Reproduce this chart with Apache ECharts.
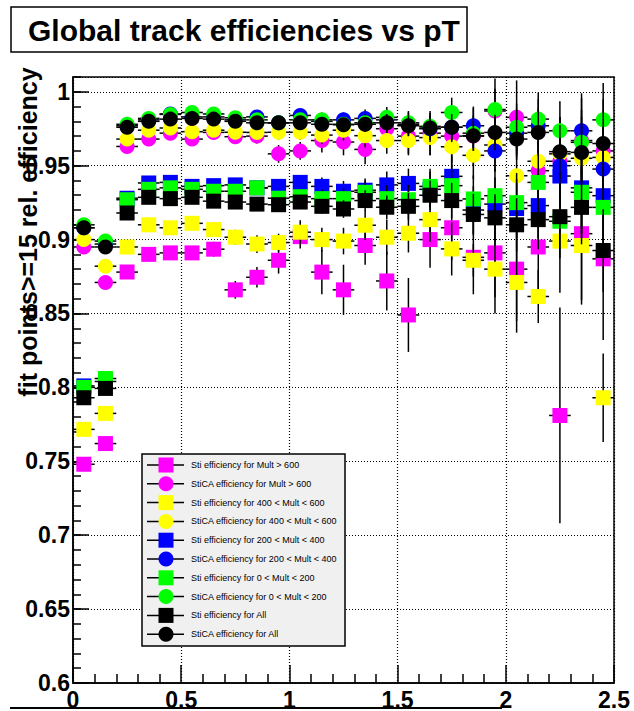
<!DOCTYPE html>
<html><head><meta charset="utf-8">
<script src="https://cdn.jsdelivr.net/npm/echarts@6.0.0/dist/echarts.min.js"></script>
<style>html,body{margin:0;padding:0;background:#fff}#c{width:634px;height:711px}</style>
</head><body><div id="c"></div>
<script>
// ---- data ----
const titleText = 'Global track efficiencies vs pT';
const yTitle = 'fit points>=15 rel. efficiency';
const xTicks = [0, 0.5, 1, 1.5, 2, 2.5];
const yTicks = [0.6, 0.65, 0.7, 0.75, 0.8, 0.85, 0.9, 0.95, 1];
const pt = [0.05,0.15,0.25,0.35,0.45,0.55,0.65,0.75,0.85,0.95,1.05,1.15,1.25,1.35,1.45,1.55,1.65,1.75,1.85,1.95,2.05,2.15,2.25,2.35,2.45];
const ptErr = [0.05,0.05,0.05,0.05,0.05,0.05,0.05,0.05,0.05,0.05,0.05,0.05,0.05,0.05,0.05,0.05,0.05,0.05,0.05,0.05,0.05,0.05,0.05,0.05,0.05];

const legendLabels = [
  'Sti efficiency for Mult > 600',
  'StiCA efficiency for Mult > 600',
  'Sti efficiency for 400 < Mult < 600',
  'StiCA efficiency for 400 < Mult < 600',
  'Sti efficiency for 200 < Mult < 400',
  'StiCA efficiency for 200 < Mult < 400',
  'Sti efficiency for 0 < Mult < 200',
  'StiCA efficiency for 0 < Mult < 200',
  'Sti efficiency for All',
  'StiCA efficiency for All'
];

const stiMultGt600 = [0.748,0.762,0.878,0.890,0.891,0.891,0.8935,0.866,0.8745,0.886,0.902,0.878,0.866,0.896,0.872,0.849,0.900,0.908,0.888,0.891,0.880,0.895,0.781,0.904,0.887];
const stiMultGt600Err = [0.003,0.003,0.004,0.004,0.004,0.004,0.005,0.006,0.007,0.009,0.008,0.015,0.017,0.013,0.020,0.025,0.019,0.022,0.025,0.030,0.035,0.035,0.073,0.045,0.055];
const caMultGt600 = [0.895,0.871,0.963,0.968,0.972,0.968,0.9725,0.9696,0.970,0.958,0.960,0.967,0.966,0.961,0.975,0.970,0.972,0.970,0.970,0.987,0.9827,0.9466,0.953,0.967,0.960];
const caMultGt600Err = [0.002,0.002,0.003,0.003,0.003,0.003,0.004,0.004,0.005,0.006,0.006,0.008,0.009,0.010,0.011,0.012,0.015,0.018,0.020,0.022,0.025,0.028,0.030,0.032,0.035];
const sti400to600 = [0.7716,0.7824,0.895,0.910,0.908,0.911,0.9068,0.9016,0.897,0.898,0.905,0.900,0.899,0.9097,0.9016,0.9043,0.9135,0.8937,0.886,0.880,0.871,0.8615,0.899,0.896,0.793];
const sti400to600Err = [0.003,0.003,0.003,0.004,0.004,0.004,0.004,0.005,0.006,0.006,0.008,0.008,0.009,0.010,0.012,0.013,0.015,0.018,0.011,0.030,0.034,0.018,0.035,0.040,0.030];
const ca400to600 = [0.900,0.882,0.968,0.974,0.9755,0.973,0.974,0.9726,0.9725,0.9726,0.9726,0.9707,0.974,0.9703,0.967,0.967,0.969,0.9628,0.957,0.964,0.9432,0.953,0.958,0.955,0.9556];
const ca400to600Err = [0.002,0.002,0.002,0.003,0.003,0.003,0.003,0.004,0.004,0.005,0.005,0.006,0.007,0.008,0.009,0.010,0.012,0.014,0.016,0.018,0.020,0.022,0.025,0.028,0.030];
const sti200to400 = [0.801,0.804,0.928,0.9383,0.9387,0.936,0.9365,0.937,0.935,0.936,0.9387,0.936,0.9327,0.9334,0.937,0.938,0.934,0.9428,0.920,0.924,0.921,0.923,0.943,0.935,0.9297];
const sti200to400Err = [0.002,0.002,0.002,0.003,0.003,0.003,0.003,0.004,0.004,0.004,0.005,0.006,0.007,0.008,0.009,0.010,0.012,0.014,0.016,0.018,0.020,0.022,0.025,0.028,0.030];
const ca200to400 = [0.908,0.897,0.977,0.981,0.985,0.983,0.983,0.981,0.983,0.979,0.984,0.980,0.981,0.982,0.981,0.978,0.975,0.976,0.977,0.960,0.972,0.977,0.950,0.9736,0.9477];
const ca200to400Err = [0.002,0.002,0.002,0.002,0.002,0.003,0.003,0.003,0.003,0.004,0.004,0.005,0.005,0.006,0.007,0.008,0.009,0.010,0.012,0.014,0.016,0.018,0.020,0.022,0.025];
const sti0to200 = [0.800,0.806,0.927,0.934,0.935,0.934,0.9327,0.9327,0.935,0.928,0.929,0.9277,0.9277,0.932,0.9277,0.927,0.936,0.9365,0.9275,0.9297,0.925,0.9387,0.9124,0.932,0.9218];
const sti0to200Err = [0.002,0.002,0.002,0.003,0.003,0.003,0.003,0.004,0.004,0.004,0.005,0.006,0.007,0.008,0.009,0.010,0.012,0.014,0.016,0.018,0.020,0.022,0.025,0.028,0.030];
const ca0to200 = [0.910,0.899,0.978,0.982,0.9847,0.986,0.985,0.9824,0.981,0.979,0.981,0.981,0.978,0.979,0.9827,0.979,0.9766,0.986,0.972,0.988,0.976,0.9815,0.9736,0.9658,0.981];
const ca0to200Err = [0.002,0.002,0.002,0.002,0.002,0.003,0.003,0.003,0.003,0.004,0.004,0.005,0.005,0.006,0.007,0.008,0.009,0.010,0.012,0.014,0.016,0.018,0.020,0.022,0.025];
const stiAll = [0.793,0.7993,0.918,0.9286,0.9277,0.9286,0.926,0.9254,0.924,0.9236,0.9254,0.9225,0.9207,0.9264,0.9219,0.9225,0.930,0.9264,0.917,0.9147,0.910,0.9135,0.9155,0.9218,0.8926];
const stiAllErr = [0.002,0.002,0.002,0.002,0.003,0.003,0.003,0.003,0.004,0.004,0.004,0.005,0.006,0.007,0.008,0.009,0.010,0.012,0.014,0.016,0.018,0.020,0.022,0.025,0.028];
const caAll = [0.908,0.895,0.976,0.980,0.9815,0.982,0.9815,0.980,0.979,0.979,0.979,0.978,0.9777,0.978,0.979,0.977,0.9755,0.976,0.9703,0.9725,0.968,0.9725,0.9595,0.959,0.965];
const caAllErr = [0.001,0.001,0.002,0.002,0.002,0.002,0.002,0.003,0.003,0.003,0.003,0.004,0.004,0.005,0.006,0.007,0.008,0.009,0.010,0.012,0.014,0.016,0.018,0.020,0.022];

const seriesValues = [stiMultGt600, caMultGt600, sti400to600, ca400to600, sti200to400, ca200to400, sti0to200, ca0to200, stiAll, caAll];
const seriesErrors = [stiMultGt600Err, caMultGt600Err, sti400to600Err, ca400to600Err, sti200to400Err, ca200to400Err, sti0to200Err, ca0to200Err, stiAllErr, caAllErr];
const seriesColors = ['#ff00ff','#ff00ff','#ffff00','#ffff00','#0000ff','#0000ff','#00ff00','#00ff00','#000000','#000000'];
const seriesShapes = ['square','circle','square','circle','square','circle','square','circle','square','circle'];

// ---- chart ----
const FONT = '"Liberation Sans", Arial, Helvetica, sans-serif';
const MS = 15;

function makeRender(shape, color) {
  return function (params, api) {
    const x = api.value(0), y = api.value(1), ex = api.value(2), ey = api.value(3);
    const c = api.coord([x, y]);
    const l = api.coord([x - ex, y]), r = api.coord([x + ex, y]);
    const t = api.coord([x, y + ey]), b = api.coord([x, y - ey]);
    const marker = shape === 'square'
      ? { type: 'rect', shape: { x: c[0] - MS / 2, y: c[1] - MS / 2, width: MS, height: MS }, style: { fill: color } }
      : { type: 'circle', shape: { cx: c[0], cy: c[1], r: MS / 2 }, style: { fill: color } };
    return {
      type: 'group',
      children: [
        { type: 'line', shape: { x1: l[0], y1: c[1], x2: r[0], y2: c[1] }, style: { stroke: '#000', lineWidth: 1.5 } },
        { type: 'line', shape: { x1: c[0], y1: t[1], x2: c[0], y2: b[1] }, style: { stroke: '#000', lineWidth: 1.5 } },
        marker
      ]
    };
  };
}

const series = seriesValues.map((vals, i) => ({
  type: 'custom',
  name: legendLabels[i],
  xAxisIndex: 0, yAxisIndex: 0,
  clip: true,
  z: 5,
  renderItem: makeRender(seriesShapes[i], seriesColors[i]),
  encode: { x: 0, y: 1 },
  data: vals.map((v, k) => [pt[k], v, ptErr[k], seriesErrors[i][k]])
}));

// legend built as graphic
const LX = 142, LY = 454, LW = 203, LH = 192, ROW0 = 465, ROWH = 18.8;
const legendChildren = [
  { type: 'rect', z: 100, shape: { x: LX, y: LY, width: LW, height: LH }, style: { fill: '#f0f0f0', stroke: '#000', lineWidth: 1.5 } }
];
legendLabels.forEach((lab, i) => {
  const cy = ROW0 + ROWH * i;
  legendChildren.push({ type: 'line', z: 101, shape: { x1: 147, y1: cy, x2: 184, y2: cy }, style: { stroke: '#000', lineWidth: 1.5 } });
  if (seriesShapes[i] === 'square') {
    legendChildren.push({ type: 'rect', z: 102, shape: { x: 166 - MS / 2, y: cy - MS / 2, width: MS, height: MS }, style: { fill: seriesColors[i] } });
  } else {
    legendChildren.push({ type: 'circle', z: 102, shape: { cx: 166, cy: cy, r: MS / 2 }, style: { fill: seriesColors[i] } });
  }
  legendChildren.push({ type: 'text', z: 102, x: 191, y: cy, style: { text: lab, fill: '#000', font: '9px ' + FONT, textAlign: 'left', textVerticalAlign: 'middle' } });
});

const chart = echarts.init(document.getElementById('c'), null, { renderer: 'svg', width: 634, height: 711 });
chart.setOption({
  animation: false,
  backgroundColor: '#fff',
  grid: { left: 73, right: 20, top: 77, bottom: 28, show: true, borderColor: '#000', borderWidth: 1.5, backgroundColor: 'transparent' },
  xAxis: [{
    type: 'value', min: xTicks[0], max: xTicks[xTicks.length - 1], interval: 0.5,
    axisLine: { lineStyle: { color: '#000', width: 1.5 } },
    axisTick: { inside: true, length: 18, lineStyle: { color: '#000', width: 1.5 } },
    minorTick: { show: true, splitNumber: 5, length: 9, lineStyle: { color: '#000', width: 1.5 } },
    splitLine: { show: true, lineStyle: { color: '#000', type: [1, 2], width: 1.2 } },
    axisLabel: { fontSize: 23, fontWeight: 'bold', color: '#000', margin: 5, fontFamily: FONT }
  }],
  yAxis: [{
    type: 'value', min: yTicks[0], max: 1.01, interval: 0.05,
    axisLine: { lineStyle: { color: '#000', width: 1.5 } },
    axisTick: { inside: true, length: 16, lineStyle: { color: '#000', width: 1.5 } },
    splitLine: { show: true, lineStyle: { color: '#000', type: [1, 2], width: 1.2 } },
    axisLabel: { fontSize: 23, fontWeight: 'bold', color: '#000', margin: 3, fontFamily: FONT, showMaxLabel: false,
      formatter: v => (yTicks.some(t => Math.abs(t - v) < 1e-6) ? String(+v.toFixed(2)) : '') }
  }, {
    type: 'value', min: yTicks[0], max: 1.01, interval: 0.01, position: 'left', offset: 0,
    axisLine: { show: false },
    axisTick: { inside: true, length: 8, lineStyle: { color: '#000', width: 1.5 } },
    splitLine: { show: false }, axisLabel: { show: false }
  }],
  graphic: [
    { type: 'rect', shape: { x: 11, y: 7, width: 456, height: 45 }, style: { fill: '#fff', stroke: '#000', lineWidth: 1.5 } },
    { type: 'text', x: 28, y: 30, style: { text: titleText, fill: '#000', font: 'bold 30px ' + FONT, textAlign: 'left', textVerticalAlign: 'middle' } },
    { type: 'text', x: 28, y: 232, rotation: Math.PI / 2, style: { text: yTitle, fill: '#000', font: 'bold 25px ' + FONT, textAlign: 'center', textVerticalAlign: 'middle' } },
    { type: 'line', shape: { x1: 10, y1: 708, x2: 502, y2: 708 }, style: { stroke: '#000', lineWidth: 2 } },
    { type: 'group', z: 100, children: legendChildren }
  ],
  series: series
});
</script></body></html>
